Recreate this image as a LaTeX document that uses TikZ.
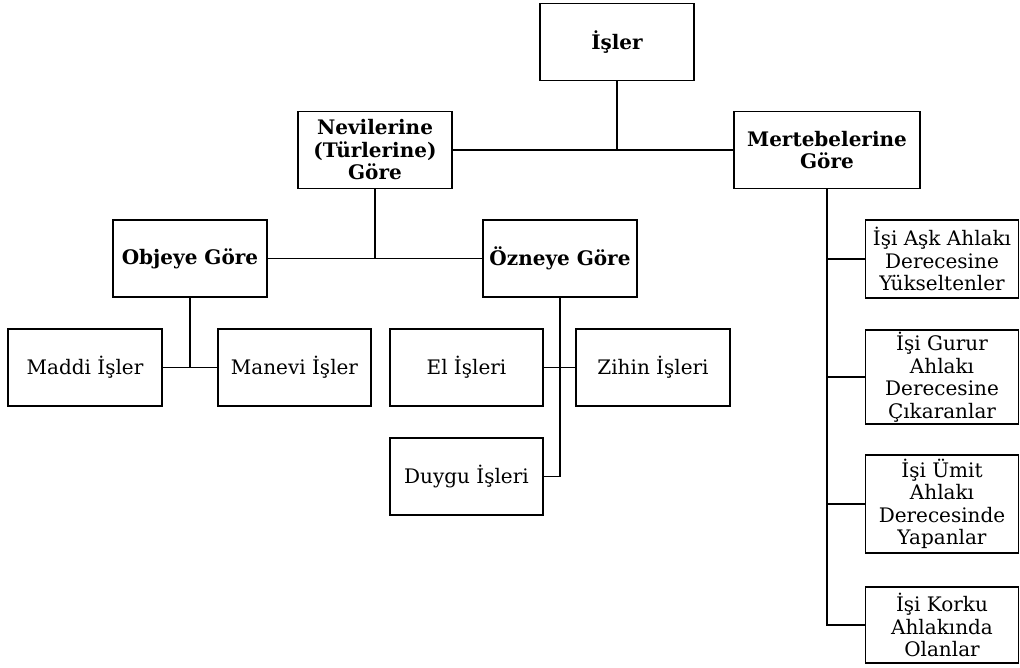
\documentclass[tikz,border=0pt]{standalone}
\usepackage{fontspec}
\setmainfont{DejaVu Serif}
\begin{document}
\begin{tikzpicture}[x=1pt,y=-1pt,
    box/.style={draw,line width=1.9pt,inner sep=0pt,align=center,minimum width=154pt,minimum height=77pt,font=\fontsize{20}{22.5}\selectfont},
    head/.style={box,font=\fontsize{20}{22.5}\selectfont\bfseries},
    link/.style={line width=1.9pt}]
  \useasboundingbox (0,0) rectangle (1020,668);
  \begin{scope}[every node/.style={box}]
    \node[head] (isler) at (617,42) {İşler};
    \node[head] (nev) at (375,150) {Nevilerine\\(Türlerine)\\Göre};
    \node[head,minimum width=186pt] (mert) at (827,150) {Mertebelerine\\Göre};
    \node[head] (obj) at (190,258.5) {Objeye Göre};
    \node[head] (ozn) at (560,258.5) {Özneye Göre};
    \node (maddi) at (85,367.5) {Maddi İşler};
    \node[minimum width=153pt] (manevi) at (294.5,367.5) {Manevi İşler};
    \node[minimum width=153pt] (el) at (466.5,367.5) {El İşleri};
    \node (zihin) at (653,367.5) {Zihin İşleri};
    \node[minimum width=153pt] (duygu) at (466.5,476.5) {Duygu İşleri};
    \node[minimum width=153pt,minimum height=78pt] (ask) at (942,259) {İşi Aşk Ahlakı\\Derecesine\\Yükseltenler};
    \node[minimum width=153pt,minimum height=94pt] (gurur) at (942,377) {İşi Gurur\\Ahlakı\\Derecesine\\Çıkaranlar};
    \node[minimum width=153pt,minimum height=98pt] (umit) at (942,504) {İşi Ümit\\Ahlakı\\Derecesinde\\Yapanlar};
    \node[minimum width=153pt,minimum height=76pt] (korku) at (942,625) {İşi Korku\\Ahlakında\\Olanlar};
  \end{scope}
  % top level
  \draw[link] (nev.east) -- (mert.west);
  \draw[link] (isler.south) -- (isler.south |- nev.east);
  % nevilerine
  \draw[link] (obj.east) -- (ozn.west);
  \draw[link] (nev.south) -- (nev.south |- obj.east);
  \draw[link] (maddi.east) -- (manevi.west);
  \draw[link] (obj.south) -- (obj.south |- maddi.east);
  \draw[link] (el.east) -- (zihin.west);
  \draw[link] (ozn.south) |- (duygu.east);
  % mertebelerine
  \draw[link] (mert.south) |- (korku.west);
  \foreach \k in {ask,gurur,umit}
    \draw[link] (mert.south |- \k.west) -- (\k.west);
\end{tikzpicture}
\end{document}
